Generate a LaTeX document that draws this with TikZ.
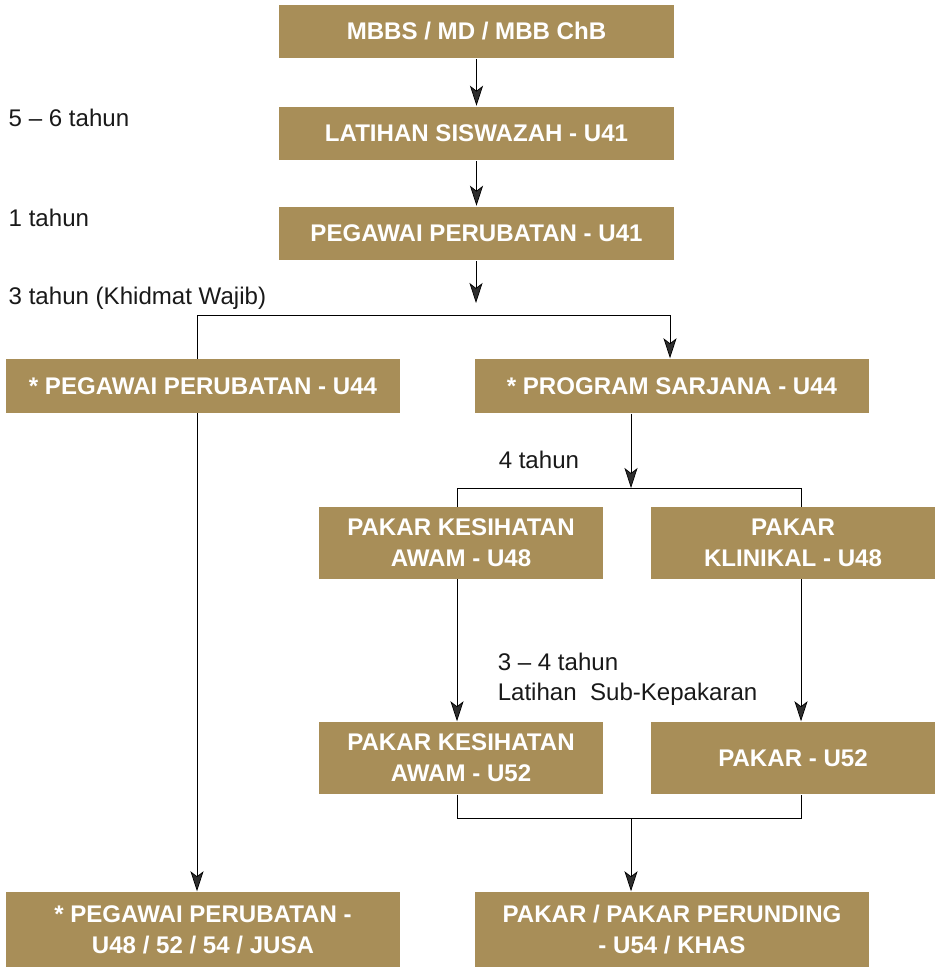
\documentclass[tikz,border=0pt]{standalone}
\usepackage{fontspec}
\setmainfont{Liberation Sans}
\usetikzlibrary{arrows.meta,backgrounds}
\definecolor{pakgold}{HTML}{A88E58}
\definecolor{linegray}{HTML}{2E2E2E}

\begin{document}
\begin{tikzpicture}[x=0.02cm,y=-0.02cm,line width=0.85pt,line join=round,draw=linegray,
  >={Stealth[length=0.4cm,width=0.26cm,inset=0.1cm]},
  box/.style={fill=pakgold,text=white,font=\bfseries\fontsize{13.7}{17.6}\selectfont,align=center,inner sep=0pt},
  wide/.style={box,minimum width=7.9cm,minimum height=1.08cm},
  mid/.style={box,minimum width=5.68cm,minimum height=1.44cm},
  note/.style={anchor=west,font=\fontsize{13.7}{17.2}\selectfont,inner sep=0pt,align=left,text=black!90}]
\useasboundingbox (0,0) rectangle (936,969);

% boxes
\node[wide] (mbbs) at (476.5,31.5) {MBBS / MD / MBB ChB};
\node[wide] (latihan) at (476.5,133.5) {LATIHAN SISWAZAH - U41};
\node[wide] (pp41) at (476.5,233.5) {PEGAWAI PERUBATAN - U41};
\node[wide] (pp44) at (203,386) {* PEGAWAI PERUBATAN - U44};
\node[wide] (sarjana) at (672,386) {* PROGRAM SARJANA - U44};
\node[mid] (awam48) at (461,543) {PAKAR KESIHATAN\\AWAM - U48};
\node[mid] (klinikal) at (793,543) {PAKAR\\KLINIKAL - U48};
\node[mid] (awam52) at (461,758) {PAKAR KESIHATAN\\AWAM - U52};
\node[mid] (pakar52) at (793,758) {PAKAR - U52};
\node[wide,minimum height=1.5cm] (pp48) at (203,929.5) {* PEGAWAI PERUBATAN -\\U48 / 52 / 54 / JUSA};
\node[wide,minimum height=1.5cm] (perunding) at (672,929.5) {PAKAR / PAKAR PERUNDING\\- U54 / KHAS};

% durations
\node[note] (t56) at (8,118) {5 – 6 tahun};
\node[note] (t1) at (8,218) {1 tahun};
\node[note] (t3) at (8,298) {3 tahun (Khidmat Wajib)};
\node[note] (t4) at (498,460) {4 tahun};
\node[note] (t34) at (497,679) {3 – 4 tahun\\Latihan\ \ Sub-Kepakaran};

% connectors
\coordinate (fork1) at (476,303);
\coordinate (split1L) at (197,315);
\coordinate (split1R) at (670,315);
\coordinate (fork2) at (631,488);
\coordinate (split2L) at (457,488);
\coordinate (split2R) at (801,488);
\coordinate (joinL) at (457,818);
\coordinate (joinR) at (801,818);
\coordinate (join) at (631,818);
\begin{scope}[on background layer]
\draw[->] (mbbs) -- (latihan);
\draw[->] (latihan) -- (pp41);
\draw[->] (pp41.south -| fork1) -- (fork1);
\draw[->] (split1L) -- (split1R) -- (split1R |- sarjana.north);
\draw[->] (split1L) -- (split1L |- pp48.north);
\draw[->] (sarjana.south -| fork2) -- (fork2);
\draw (split2L) -- (split2R);
\draw[->] (split2L) -- (split2L |- awam52.north);
\draw[->] (split2R) -- (split2R |- pakar52.north);
\draw (awam52.south -| joinL) -- (joinL) -- (joinR) -- (pakar52.south -| joinR);
\draw[->] (join) -- (perunding.north -| join);
\end{scope}
\end{tikzpicture}
\end{document}
